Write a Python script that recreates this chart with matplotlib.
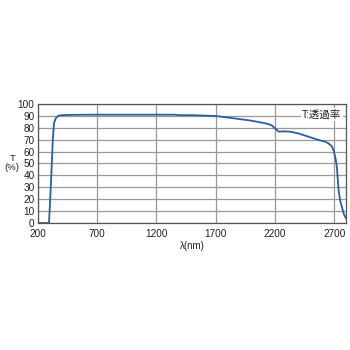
import numpy as np
import matplotlib.pyplot as plt

plt.rcParams['font.family'] = ['Liberation Sans', 'Noto Sans CJK JP', 'DejaVu Sans']

# wavelength (nm) and transmittance (%)
wl = [200, 285, 293, 310, 325, 335, 350, 370, 390, 450, 600, 800, 1000, 1200, 1350,
      1400, 1500, 1700, 1850, 2000, 2117, 2170, 2200, 2230, 2280, 2330, 2400, 2483,
      2560, 2624, 2651, 2680, 2695, 2710, 2723, 2737, 2750, 2765, 2780, 2799]
T = [0, 0, 0, 35, 70, 84, 88, 90, 90.5, 90.8, 91, 91, 91, 91, 91,
     90.6, 90.6, 89.9, 88, 86, 83.8, 82.3, 79.6, 76.8, 77, 76.7, 75.2, 72.5,
     70, 68.3, 67, 64.5, 61, 55, 47, 28, 19, 13.7, 8, 4]

xticks = [200, 700, 1200, 1700, 2200, 2700]
yticks = list(range(0, 101, 10))

fig = plt.figure(figsize=(3.5, 3.5), dpi=100)
ax = fig.add_axes([0.1086, 0.3629, 0.88, 0.34])

ax.plot(wl, T, color='#2b5f9e', lw=1.3)
ax.set_xlim(200, 2800)
ax.set_ylim(0, 100)
ax.set_xticks(xticks)
ax.set_yticks(yticks)
ax.tick_params(labelsize=7.2, length=0, colors='#222222')
ax.tick_params(axis='x', pad=4)
ax.tick_params(axis='y', pad=2.5)
ax.grid(True, color='#999999', lw=0.9)
ax.set_axisbelow(True)
for s in ax.spines.values():
    s.set_color('#555555')
    s.set_linewidth(0.9)

ax.set_xlabel('λ(nm)', fontsize=7, labelpad=2, color='#222222')
fig.text(0.035, 0.535, 'T\n(%)', fontsize=6.8, ha='center', va='center',
         linespacing=1.0, color='#222222')
ax.text(0.985, 0.955, 'T:透過率', transform=ax.transAxes, fontsize=7.5,
        ha='right', va='top', color='#222222',
        bbox=dict(facecolor='white', edgecolor='none', pad=1))

fig.savefig('out.png', dpi=100)
